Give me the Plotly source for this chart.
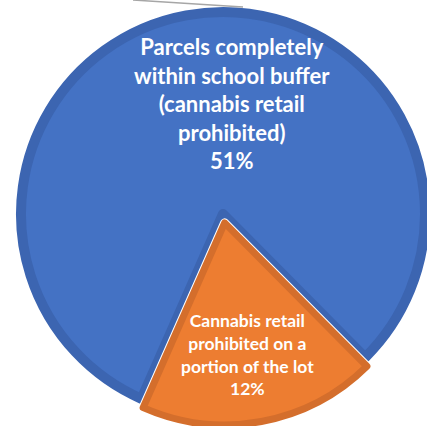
import math
import plotly.graph_objects as go

# Pie data: share of parcels (percent) and the wording shown on each slice
slice_labels = [
    "Parcels completely<br>within school buffer<br>(cannabis retail<br>prohibited)",
    "Cannabis retail<br>prohibited on a<br>portion of the lot",
]
shares = [51, 12]

BLUE, BLUE_EDGE = "#4472C4", "#3C65B1"
ORANGE, ORANGE_EDGE = "#ED7D31", "#D46E2C"
CLEAR = "rgba(0,0,0,0)"

W, H = 427, 426
ROTATION = 203.8          # start angle of the first slice, clockwise from 12 o'clock
CX, CY, R = 223.0, 214.0, 202.0
EXPLODE = 9.0             # px the orange slice is pushed out of the pie


def domain(cx, cy, r):
    return dict(x=[(cx - r) / W, (cx + r) / W],
                y=[1 - (cy + r) / H, 1 - (cy - r) / H])


# direction of the orange slice's bisector
total = sum(shares)
mid = math.radians(ROTATION + 360.0 * (shares[0] + shares[1] / 2) / total)
ox, oy = CX + EXPLODE * math.sin(mid), CY - EXPLODE * math.cos(mid)

common = dict(values=shares, sort=False, direction="clockwise", rotation=ROTATION,
              textinfo="none", hoverinfo="skip", showlegend=False)

fig = go.Figure()
# blue slice with its darker rim
fig.add_trace(go.Pie(domain=domain(CX, CY, R),
                     marker=dict(colors=[BLUE, CLEAR],
                                 line=dict(color=[BLUE_EDGE, CLEAR], width=[10, 0])),
                     **common))
# thin white seam round the exploded orange slice
fig.add_trace(go.Pie(domain=domain(ox, oy, R),
                     marker=dict(colors=[CLEAR, ORANGE],
                                 line=dict(color=[CLEAR, "white"], width=[0, 9])),
                     **common))
# orange slice with its darker rim
fig.add_trace(go.Pie(domain=domain(ox, oy, R),
                     marker=dict(colors=[CLEAR, ORANGE],
                                 line=dict(color=[CLEAR, ORANGE_EDGE], width=[0, 7])),
                     **common))

label_pos = [(232, 103, 22), (247, 354, 17.5)]
annotations = []
for text, share, (x, y, size) in zip(slice_labels, shares, label_pos):
    annotations.append(dict(
        text=f"{text}<br>{share}%", x=x / W, y=1 - y / H, xref="paper", yref="paper",
        xanchor="center", yanchor="middle", showarrow=False, align="center",
        font=dict(family="Lato", size=size, color="white", weight="bold")))

fig.update_layout(
    width=W, height=H, margin=dict(l=0, r=0, t=0, b=0),
    paper_bgcolor="white", plot_bgcolor="white",
    annotations=annotations,
    shapes=[dict(type="line", xref="paper", yref="paper",
                 x0=133 / W, y0=1.0, x1=243 / W, y1=1 - 7 / H,
                 line=dict(color="#A6A6A6", width=1.5))],
)

fig.write_html("out.html")
